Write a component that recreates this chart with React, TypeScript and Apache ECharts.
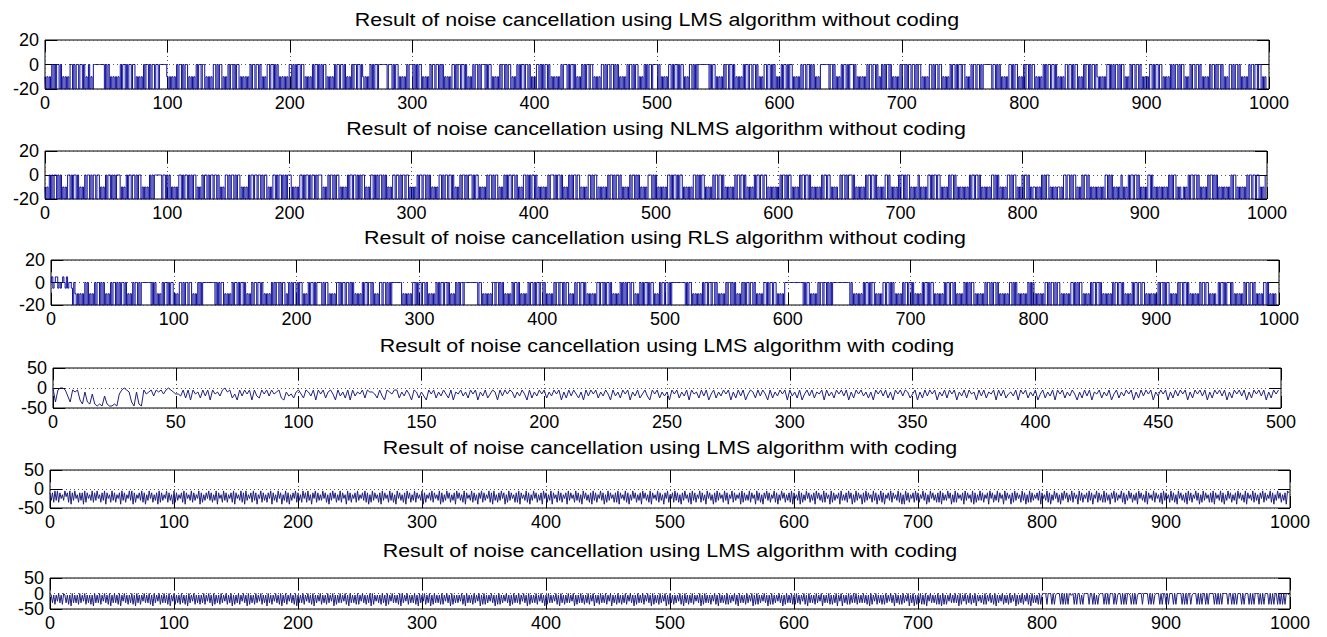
import React, { useEffect, useRef } from "react";
import * as echarts from "echarts";

// ---------- titles & axes ----------
const TITLES = [
  "Result of noise cancellation using LMS algorithm without coding",
  "Result of noise cancellation using NLMS algorithm without coding",
  "Result of noise cancellation using RLS algorithm without coding",
  "Result of noise cancellation using LMS algorithm with coding",
  "Result of noise cancellation using LMS algorithm with coding",
  "Result of noise cancellation using LMS algorithm with coding",
];
const X_MAX = [1000, 1000, 1000, 500, 1000, 1000];
const X_STEP = [100, 100, 100, 50, 100, 100];
const Y_LIMIT = [20, 20, 20, 50, 50, 50];

// sample codes -> value (hand-read levels)
const BIN_LEVELS: Record<string, number> = { "0": 0, "1": -10, "2": -20, a: 5, b: -5 };
const CONT_LEVELS: Record<string, number> = {
  "0": 0, "1": -5, "2": -10, "3": -15, "4": -20, "5": -25, "6": -30, "7": -35, "8": -40, "9": -45,
};

// ---------- series samples (one code per sample, x = sample index) ----------
const LMS_UNCODED = [
  "1212120202 0020212121 2002020020 0202120212 0000000002",
  "0202121212 1202002020 0200212121 2020020200 2002000000",
  "1212121202 0020200212 1212020020 0212121200 2020021212",
  "0200202002 1212121202 0020020212 1200200202 0212121212",
  "0020202002 0021212120 2002020200 2121212020 0200202121",
  "2020020020 1212120202 0020000000 2000202002 1212120200",
  "0202020021 2121202002 0020202121 2120020200 2002021212",
  "0200202000 2020021212 1202002020 0212120202 0020020212",
  "1200202020 0202121212 1202000202 0020212120 2020020021",
  "2121200202 0020020202 1212120200 2020021212 0202002000",
  "0202121212 0020200202 0021212002 0202000000 0002020021",
  "2121202002 0020212121 2020020020 0202121200 2002020212",
  "1202002020 0212121202 0020020202 1212000000 0200202121",
  "2020020200 0202121212 1202002002 0212020200 2021212120",
  "2002020020 0202002121 2120020200 2002121212 0200202002",
  "0021212020 0200202000 0000200202 0212121200 2020021212",
  "0200202002 1212120202 0020020212 1212002002 0200212120",
  "2002020020 1212121200 2020200202 0021212020 0200202121",
  "2120020200 2002121212 0202002020 0212120200 2002021212",
  "1202002020 0202121200 2020020212 1212020020 0200212122",
];
const NLMS_UNCODED = [
  "1212020200 2020212120 0202002021 2120200202 0020021212",
  "0200202020 0021212020 0200202002 1212120202 0000002002",
  "0202121212 0020200202 0200212120 2002020020 0202121200",
  "2020020200 2121212020 0200200202 0021212002 0200202020",
  "0021212120 0202002020 0202000212 1202002020 0212121202",
  "0020020202 0021212002 0202002020 2121200200 2020020021",
  "2121202002 0020202121 2120020200 2002021212 0200202000",
  "2020021212 1202002020 0212120202 0020020212 1200202020",
  "0202121212 1202000202 0020212120 2020020021 2121200202",
  "0021212121 2020020200 2021212120 2002020212 1212000202",
  "0212121212 0020200202 0021212121 2002020200 2121212020",
  "0200202121 2121202002 0020212121 2020020020 0212121212",
  "1202002020 0212121202 0020020212 1212120200 2002121212",
  "2020020200 0202121212 1202002002 0212121200 2021212120",
  "2002020021 2121202121 2120020200 2002121212 0200202121",
  "2121212020 0200202121 2121200202 0212121200 2020021212",
  "0200202121 1212120202 0021212121 1212002002 0200212120",
  "2002021212 1212121200 2020212121 2021212020 0200202121",
  "2120020212 1212121212 0202002121 2212120200 2002021212",
  "1202002020 2121212121 2020021212 1212020020 0200212120",
];
const RLS_UNCODED = [
  "0ab0aab0b0 a0bab00b20 1212121202 0212120200 2020212120",
  "2002020200 2021212020 0202000000 0020202121 2020020200",
  "2121200202 0020021212 0202000000 0000202020 0212121202",
  "0020200202 1212020020 0202121212 0202002020 0212020200",
  "2020021212 0200202000 0202002121 2120020200 2002020212",
  "1212020020 0202121200 2002020200 0000002121 2121200202",
  "0020020212 1212020200 2002021212 0202002000 0000000020",
  "0212121212 0020020202 1212120200 2021212120 2002020020",
  "0202121212 0200200202 0021212020 0200202121 2121200200",
  "2020020212 1212020202 0020021212 0202002020 0212120200",
  "2002020000 0000000202 0021212121 2020020020 0202121212",
  "0200202021 2120202002 0020212121 2002020020 0212121200",
  "0000000000 0002020021 2121202002 0020202000 0000000000",
  "0202121212 1202002020 0212121200 2002020212 1212020020",
  "0202121212 0200202002 1212121202 0020020212 1212020202",
  "0021212121 2020020200 2021212121 2002020212 1212120202",
  "0212121212 0020200202 0021212121 2002020200 2121212020",
  "0200202121 2121202002 0020212121 2020020020 0212121212",
  "1202002020 0212121202 0020020212 1212120200 2002121212",
  "2020020200 0202121212 1202002002 0212121200 2021212122",
];
const LMS_CODED_500 = [
  "0710014712 1682783898 9489989310 1279289132 1412131012",
  "3341516132 5141613241 0215361413 1614513141 3215624352",
  "1351241613 1521361425 1614231512 2351461231 1524136125",
  "2461315241 3516231425 1316241531 2614131252 4136152413",
  "1524131625 1413526141 3152413614 2513162415 3146131524",
  "2613152416 1325141631 5241316251 4163125141 3615241316",
  "1425163141 5231614251 3141625131 4252613141 5261314125",
  "3162514131 6241513162 4151326141 5231614153 2416131524",
  "1631524161 3152413625 1416231524 1631524131 6251413162",
  "4131625141 3162513141 6251314162 5131416251 3141625131",
];
const LMS_CODED_A = [
  "2627161725 3614271826 1537262817 2536172615 3726182537",
  "1627352816 2735161827 3526172836 1527362817 2635172638",
  "1726352718 2536172635 1827362516 2736182537 1627352718",
  "2536172816 3527162835 1726372518 2637152836 1728362517",
  "2637152716 3825172636 1527382615 2736172538 1627352716",
  "3526172837 1625372816 2537162738 1526372815 2736172536",
  "1827352617 2536182736 1527362815 2637182536 1726382517",
  "2635172816 3726152837 1625372718 2536172836 1527362815",
  "2736182537 1627352816 2537162738 1526372816 2735162837",
  "1625372718 2536172836 1527362815 2637182536 1726382517",
  "3527162738 2615372816 2735172638 1526382716 2537162835",
  "1726352817 2636172538 1627382516 2735172836 1527362718",
  "2536182736 1527362815 2637172538 1726352816 3627152837",
  "1625382716 2537162836 1728352617 2536172838 1627352716",
  "2735162837 1526372718 2636152837 1725362816 2537182736",
  "1627352815 2736172538 1625382716 2537162837 1726352618",
  "2536172836 1527382615 2736172538 1627352716 2835172637",
  "1726382517 2635172836 1527362815 2637182536 1725372816",
  "2537162738 1526372816 2735162837 1625372718 2536172836",
  "1527362815 2637182536 1726382517 2635172836 1527362812",
];
const LMS_CODED_B = [
  "0161715061 7016171806 1617061507 1617180616 0715061708",
  "1606170815 0617160718 0617150616 0718061507 1606170815",
  "0716170617 1806150716 1716071506 1807161706 1507160817",
  "1607150618 0716170615 0716180617 1506170816 0715061708",
  "1616071506 1708161507 1617061508 1716061507 1806161707",
  "1506171608 0715161706 1807150616 1708061507 1616071806",
  "1507160817 0616170715 0618071616 1507180616 1706150817",
  "0716150618 1707161506 1817061607 1506180716 1607150618",
  "1706161507 1806171606 1508171606 1716071508 1617061607",
  "1508161706 1716071506 1817061607 1506180716 1706150817",
  "0617161507 1806171607 1516081706 1617150718 0616170716",
  "1507180616 1706150817 0716150618 1707161506 1817061607",
  "1706171507 1806161706 1508161607 1716081508 1617071606",
  "0716160617 1807150716 1717061506 1806171706 1508160817",
  "1607170815 0616170718 0717150616 0618071507 1607160815",
  "1617071506 1708161507 1617061508 1716071507 1806161707",
  "1000700070 7100070707 0701107070 0717000070 0707171000",
  "7070700070 7100707070 0170707100 0700007070 7100070700",
  "7070007070 0007070700 7100070707 0070700007 0707070000",
  "7007070700 0707000707 0700070707 0007070700 7070707001",
];

const layout = [
  { left: 45, width: 1224, top: 40, height: 49, titleY: 20 },
  { left: 45, width: 1222, top: 151, height: 48, titleY: 129 },
  { left: 51, width: 1228, top: 260, height: 45, titleY: 238 },
  { left: 53, width: 1228, top: 368, height: 40, titleY: 346 },
  { left: 50, width: 1240, top: 470, height: 38, titleY: 448 },
  { left: 50, width: 1240, top: 578, height: 31, titleY: 551 },
];

const decode = (rows: string[], levels: Record<string, number>) =>
  rows
    .join("")
    .replace(/ /g, "")
    .split("")
    .map((c, i) => [i, levels[c]]);

const SERIES_DATA = [
  decode(LMS_UNCODED, BIN_LEVELS),
  decode(NLMS_UNCODED, BIN_LEVELS),
  decode(RLS_UNCODED, BIN_LEVELS),
  decode(LMS_CODED_500, CONT_LEVELS),
  decode(LMS_CODED_A, CONT_LEVELS),
  decode(LMS_CODED_B, CONT_LEVELS),
];
const LINE_COLORS = ["#10109c", "#10109c", "#10109c", "#20207e", "#20207e", "#20207e"];
const STEPPED = [true, true, true, false, false, false];

const FONT = '"Liberation Sans", Arial, Helvetica, sans-serif';

export default function App() {
  const ref = useRef<HTMLDivElement>(null);
  useEffect(() => {
    if (!ref.current) return;
    const chart = echarts.init(ref.current, undefined, { renderer: "svg" });
    const grid: any[] = [];
    const xAxis: any[] = [];
    const yAxis: any[] = [];
    const series: any[] = [];
    const graphic: any[] = [];
    const mkTick = () => ({ show: true, inside: true, length: 12, lineStyle: { color: "#000", width: 1 } });
    const mkDotted = () => ({ show: true, lineStyle: { color: "#555", width: 1, type: [1, 3] } });
    const noLine = () => ({ show: false, onZero: false });
    const fmt = (v: number) => String(v);
    layout.forEach((l, i) => {
      grid.push({
        left: l.left, top: l.top, width: l.width, height: l.height,
        show: true, borderColor: "#000", borderWidth: 1, backgroundColor: "#fff",
      });
      xAxis.push({
        type: "value", gridIndex: i, position: "bottom", min: 0, max: X_MAX[i], interval: X_STEP[i],
        axisLine: noLine(), axisTick: mkTick(),
        axisLabel: { show: true, margin: 5, fontSize: 18, color: "#000", fontFamily: FONT, formatter: fmt, showMinLabel: true, showMaxLabel: true, hideOverlap: false },
        splitLine: mkDotted(),
      });
      xAxis.push({
        type: "value", gridIndex: i, position: "top", min: 0, max: X_MAX[i], interval: X_STEP[i],
        axisLine: noLine(), axisTick: mkTick(), axisLabel: { show: false }, splitLine: { show: false },
      });
      yAxis.push({
        type: "value", gridIndex: i, position: "left", min: -Y_LIMIT[i], max: Y_LIMIT[i], interval: Y_LIMIT[i],
        axisLine: noLine(), axisTick: mkTick(),
        axisLabel: { show: true, margin: 6, fontSize: 18, color: "#000", fontFamily: FONT, formatter: fmt, showMinLabel: true, showMaxLabel: true, hideOverlap: false },
        splitLine: mkDotted(),
      });
      yAxis.push({
        type: "value", gridIndex: i, position: "right", min: -Y_LIMIT[i], max: Y_LIMIT[i], interval: Y_LIMIT[i],
        axisLine: noLine(), axisTick: mkTick(), axisLabel: { show: false }, splitLine: { show: false },
      });
      series.push({
        type: "line", xAxisIndex: 2 * i, yAxisIndex: 2 * i, data: SERIES_DATA[i],
        showSymbol: false, symbol: "none", silent: true, clip: true,
        step: STEPPED[i] ? "middle" : false,
        lineStyle: { width: 1, color: LINE_COLORS[i] },
      });
      graphic.push({
        type: "text", x: l.left + l.width / 2, y: l.titleY, scaleX: 1.19, silent: true,
        style: {
          text: TITLES[i], fontSize: 18, fontFamily: FONT, fill: "#000",
          textAlign: "center", textVerticalAlign: "middle", verticalAlign: "middle",
        },
      });
    });
    // the last panel is so short that ECharts drops its middle "0" tick label; put it back
    const last = layout[layout.length - 1];
    graphic.push({
      type: "text", x: last.left - 6, y: last.top + last.height / 2, silent: true,
      style: {
        text: "0", fontSize: 18, fontFamily: FONT, fill: "#000",
        textAlign: "right", textVerticalAlign: "middle", verticalAlign: "middle",
      },
    });
    chart.setOption({
      animation: false,
      backgroundColor: "#fff",
      grid, xAxis, yAxis, series, graphic,
    });
    return () => chart.dispose();
  }, []);
  return <div ref={ref} style={{ position: "fixed", left: 0, top: 0, width: 1327, height: 637 }} />;
}
